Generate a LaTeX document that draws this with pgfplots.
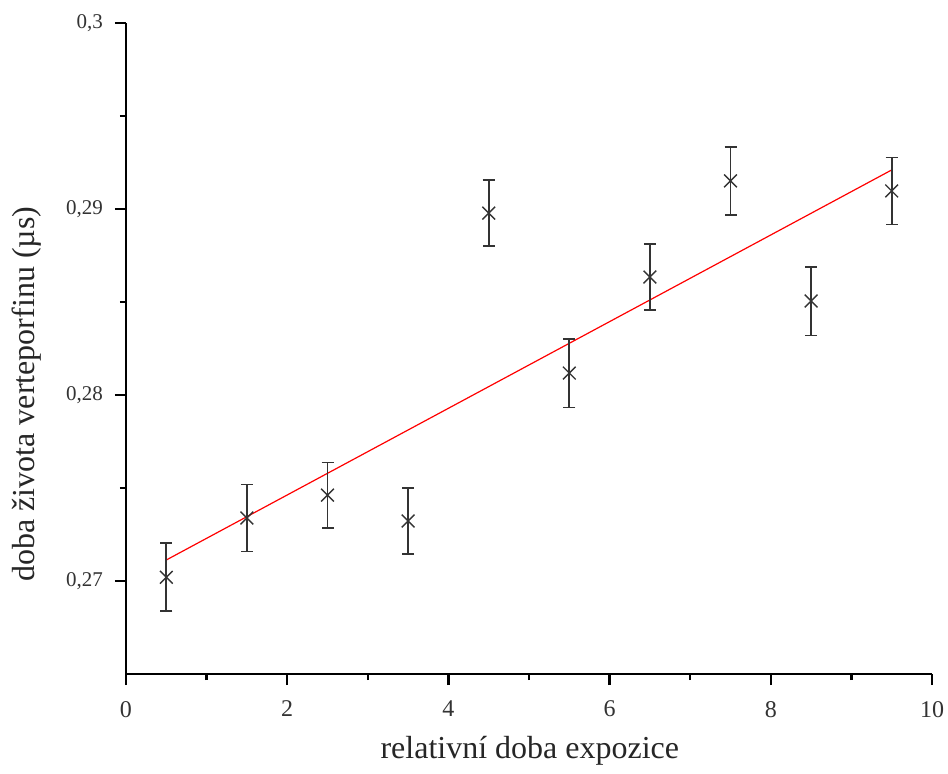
\documentclass[border=0pt]{standalone}
\usepackage{fontspec}
\setmainfont{Liberation Serif}
\usepackage{pgfplots}
\pgfplotsset{compat=1.18}
\begin{document}
\begin{tikzpicture}
\useasboundingbox (-63pt,-49.5pt) rectangle (411pt,337pt);
\begin{axis}[
  scale only axis, width=403pt, height=325.5pt,
  xmin=0, xmax=10, ymin=0.265, ymax=0.3,
  axis x line=bottom, axis y line=left,
  axis line style={-, line width=1.2pt},
  xtick={0,2,4,6,8,10}, xticklabels={0,2,4,6,8,10},
  ytick={0.27,0.28,0.29,0.3},
  yticklabels={{0,27},{0,28},{0,29},{0,3}},
  minor x tick num=1, minor y tick num=1,
  tick align=outside,
  major tick length=5.5pt, minor tick length=3pt,
  every tick/.style={line width=1.2pt, black},
  xticklabel style={font=\fontsize{12}{13}\selectfont, text=black!80, yshift=-4.5pt},
  yticklabel style={font=\fontsize{10.5}{12}\selectfont, text=black!80, xshift=-2.5pt},
  xlabel={relativní doba expozice},
  ylabel={doba života verteporfinu (µs)},
  label style={font=\fontsize{16}{18}\selectfont, text=black!85},
  xlabel style={at={(axis description cs:0.501,-0.118)}, anchor=center},
  ylabel style={at={(axis description cs:-0.123,0.43)}, anchor=center, rotate=0},
  clip=false,
]
% lineární fit
\addplot[red, line width=0.6pt] coordinates {(0.5,0.27113) (9.5,0.29210)};
% naměřené doby života s chybami
\addplot[only marks, mark=x, mark size=4.5pt, color=black!80,
  mark options={line width=0.7pt},
  error bars/.cd, y dir=both, y explicit,
  error bar style={line width=0.9pt, black!80},
  error mark options={rotate=90, mark size=3pt, line width=0.9pt, black!80}]
  table[x=x, y=y, y error=e] {
  x    y        e
  0.5  0.27020  0.00183
  1.5  0.27339  0.00180
  2.5  0.27462  0.00175
  3.5  0.27323  0.00178
  4.5  0.28978  0.00178
  5.5  0.28118  0.00185
  6.5  0.28634  0.00178
  7.5  0.29151  0.00183
  8.5  0.28505  0.00185
  9.5  0.29097  0.00180
  };
\end{axis}
\end{tikzpicture}
\end{document}
